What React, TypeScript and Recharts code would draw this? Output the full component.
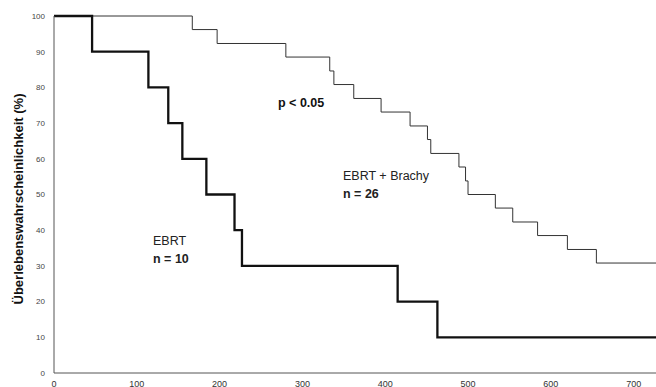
import { LineChart, Line, XAxis, YAxis } from 'recharts';

// Kaplan-Meier Kurven
const ebrtTimes = [0, 46, 114, 138, 155, 184, 218, 227, 415, 463, 727];
const ebrtSurvival = [100, 90, 80, 70, 60, 50, 40, 30, 20, 10, 10];

const brachyTimes = [0, 167, 197, 280, 333, 338, 362, 395, 430, 451, 455, 489, 497, 500, 533, 554, 584, 620, 655, 727];
const brachySurvival = [100, 96.2, 92.3, 88.5, 84.6, 80.8, 76.9, 73.1, 69.2, 65.4, 61.5, 57.7, 53.8, 50, 46.2, 42.3, 38.5, 34.6, 30.8, 30.8];

const xTicks = [0, 100, 200, 300, 400, 500, 600, 700];
const yTicks = [0, 10, 20, 30, 40, 50, 60, 70, 80, 90, 100];

const ebrtData = ebrtTimes.map((t, i) => ({ t, s: ebrtSurvival[i] }));
const brachyData = brachyTimes.map((t, i) => ({ t, s: brachySurvival[i] }));

const font = 'Arial, "Liberation Sans", sans-serif';

export default function App() {
  return (
    <div style={{ position: 'absolute', left: 0, top: 0, width: 656, height: 387, overflow: 'hidden', background: '#fff', fontFamily: font }}>
      <LineChart width={656} height={403} margin={{ top: 16, right: 0, bottom: 0, left: 0 }}>
        <XAxis
          type="number"
          dataKey="t"
          domain={[0, 727]}
          ticks={xTicks}
          allowDataOverflow
          tickLine={false}
          tickSize={0}
          tickMargin={8}
          height={30}
          stroke="#555"
          tick={{ fontSize: 9, fill: '#333', fontFamily: font }}
        />
        <YAxis
          type="number"
          dataKey="s"
          domain={[0, 100]}
          ticks={yTicks}
          width={54}
          tickLine={false}
          tickSize={0}
          tickMargin={9}
          stroke="#555"
          tick={{ fontSize: 8, fill: '#444', fontFamily: font }}
        />
        <Line
          data={brachyData}
          dataKey="s"
          type="stepAfter"
          stroke="#333"
          strokeWidth={1}
          dot={false}
          isAnimationActive={false}
        />
        <Line
          data={ebrtData}
          dataKey="s"
          type="stepAfter"
          stroke="#111"
          strokeWidth={2.3}
          dot={false}
          isAnimationActive={false}
        />
      </LineChart>

      <div
        style={{
          position: 'absolute',
          left: 18,
          top: 199,
          transform: 'translate(-50%, -50%) rotate(-90deg)',
          whiteSpace: 'nowrap',
          fontSize: 13,
          fontWeight: 'bold',
          color: '#111',
        }}
      >
        Überlebenswahrscheinlichkeit (%)
      </div>

      <div style={{ position: 'absolute', left: 278, top: 96, fontSize: 12.5, fontWeight: 'bold', color: '#111', whiteSpace: 'nowrap' }}>
        p &lt; 0.05
      </div>

      <div style={{ position: 'absolute', left: 343, top: 167, fontSize: 12.5, color: '#222', lineHeight: '18px', whiteSpace: 'nowrap' }}>
        EBRT + Brachy
        <br />
        <b>n = 26</b>
      </div>

      <div style={{ position: 'absolute', left: 153, top: 232, fontSize: 12.5, color: '#222', lineHeight: '18px', whiteSpace: 'nowrap' }}>
        EBRT
        <br />
        <b>n = 10</b>
      </div>
    </div>
  );
}
